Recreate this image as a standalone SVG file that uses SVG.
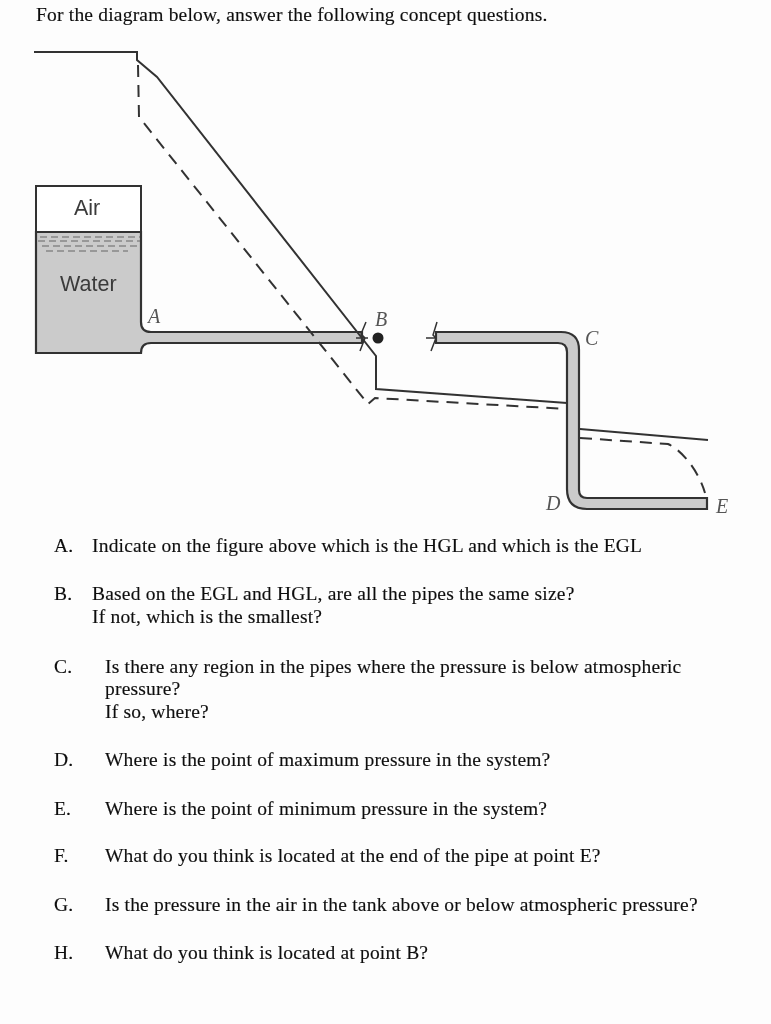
<svg xmlns="http://www.w3.org/2000/svg" width="771" height="1024" viewBox="0 0 771 1024">
<style>
.q{font-family:"Liberation Serif","Times New Roman",serif;font-size:19.5px;letter-spacing:.2px;fill:#111;stroke:#111;stroke-width:.15}
.l{font-family:"Liberation Serif","Times New Roman",serif;font-size:20px;font-style:italic;fill:#555}
.s{font-family:"Liberation Sans",Arial,sans-serif;font-size:21.5px;fill:#3a3a3a}
.pipe{fill:#cbcbcb;stroke:#333;stroke-width:2.2}
.egl{fill:none;stroke:#333;stroke-width:2}
.hgl{fill:none;stroke:#333;stroke-width:2;stroke-dasharray:12 8}
.w{fill:none;stroke:#666;stroke-width:1.2;stroke-dasharray:7 4}
.tick{fill:none;stroke:#333;stroke-width:1.5}
</style>
<defs><filter id="scan" x="-2%" y="-2%" width="104%" height="104%"><feGaussianBlur stdDeviation="0.35"/></filter></defs>
<rect width="771" height="1024" fill="#fdfdfd"/>
<g filter="url(#scan)">
<g id="tank">
<path class="pipe" d="M36 232H141V322Q141 332 151 332H362V343H151Q141 343 141 353H36Z"/>
<rect x="36" y="186" width="105" height="46" fill="#fff" stroke="#333" stroke-width="2"/>
<path class="w" d="M40 237H140M38 241H140M42 246H140M46 251H128"/>
<text class="s" x="74" y="215">Air</text>
<text class="s" x="60" y="291">Water</text>
</g>
<g id="pipe-A-B">
<path class="tick" d="M366 322L361 334L365 338L360 351M356 338H368"/>
<text class="l" x="148" y="323">A</text>
</g>
<g id="valve-B">
<circle cx="378" cy="338" r="5.5" fill="#222"/>
<text class="l" x="375" y="326">B</text>
</g>
<g id="pipe-C-D-E">
<path class="pipe" d="M436 332H561Q579 332 579 350V490Q579 498 587 498H707V509H587Q567 509 567 489V352Q567 343 558 343H436Z"/>
<path class="tick" d="M437 322L433 335L436 338L431 351M426 338H437"/>
<text class="l" x="585" y="345">C</text>
<text class="l" x="546" y="510">D</text>
<text class="l" x="716" y="513">E</text>
</g>
<g id="connectors">
<path class="egl" d="M34 52H137V60L157 77L376 356V389L567 403M580 429L708 440"/>
<path class="hgl" d="M138 65L139 117L368 404L375 398L567 409M580 438L668 444C685 452 700 475 705 493"/>
</g>
<g id="questions">
<text class="q" x="36" y="21">For the diagram below, answer the following concept questions.</text>
<text class="q" x="54" y="552">A.</text><text class="q" x="92" y="552">Indicate on the figure above which is the HGL and which is the EGL</text>
<text class="q" x="54" y="600">B.</text><text class="q" x="92" y="600">Based on the EGL and HGL, are all the pipes the same size?</text>
<text class="q" x="92" y="623">If not, which is the smallest?</text>
<text class="q" x="54" y="673">C.</text><text class="q" x="105" y="673">Is there any region in the pipes where the pressure is below atmospheric</text>
<text class="q" x="105" y="695">pressure?</text>
<text class="q" x="105" y="718">If so, where?</text>
<text class="q" x="54" y="766">D.</text><text class="q" x="105" y="766">Where is the point of maximum pressure in the system?</text>
<text class="q" x="54" y="815">E.</text><text class="q" x="105" y="815">Where is the point of minimum pressure in the system?</text>
<text class="q" x="54" y="862">F.</text><text class="q" x="105" y="862">What do you think is located at the end of the pipe at point E?</text>
<text class="q" x="54" y="911">G.</text><text class="q" x="105" y="911">Is the pressure in the air in the tank above or below atmospheric pressure?</text>
<text class="q" x="54" y="959">H.</text><text class="q" x="105" y="959">What do you think is located at point B?</text>
</g>
</g>
</svg>
